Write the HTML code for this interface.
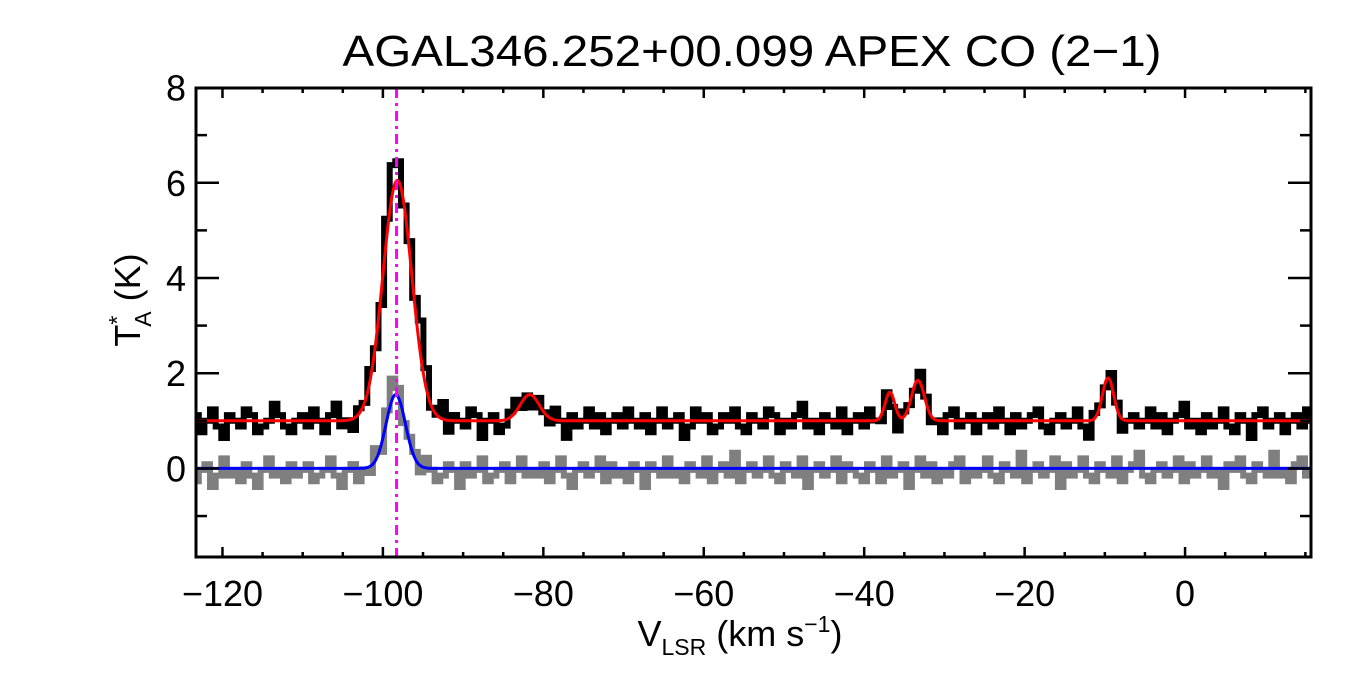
<!DOCTYPE html>
<html><head><meta charset="utf-8"><style>
html,body{margin:0;padding:0;background:#fff;}
svg{display:block;font-family:"Liberation Sans",Arial,sans-serif;}
</style></head><body>
<svg id="chart" width="1350" height="675" viewBox="0 0 1350 675">
<rect width="1350" height="675" fill="#fff"/>
<text x="752" y="66" font-size="44" text-anchor="middle" textLength="819" lengthAdjust="spacingAndGlyphs">AGAL346.252+00.099  APEX CO (2−1)</text>
<g id="series"></g>
<g id="axes"></g>
<text transform="translate(140,300) rotate(-90)" font-size="36" text-anchor="middle">T<tspan font-size="23" dy="-15">*</tspan><tspan font-size="23" dx="-11" dy="26">A</tspan><tspan dy="-11"> (K)</tspan></text>
<text x="740" y="646" font-size="36" text-anchor="middle">V<tspan font-size="23" dy="9">LSR</tspan><tspan dy="-9"> (km s</tspan><tspan font-size="23" dy="-14">−1</tspan><tspan dy="14">)</tspan></text>
</svg>
<script>
const xTicks=[-120,-100,-80,-60,-40,-20,0];
const yTicks=[0,2,4,6,8];
const vStart=-123.3, chanWidth=0.7;
const fitBaseline=1.0;
const fitCenters=[-98.2,-81.7,-36.8,-33.3,-9.6];
const fitAmps=[5.05,0.55,0.6,0.85,0.9];
const fitSigmas=[1.8,1.2,0.6,0.8,0.7];
const extraCenters=[-95.5,-99.0];
const extraAmps=[0.5,0.5];
const extraSigmas=[0.9,0.6];
const blueCenter=-98.4, blueAmp=1.55, blueSigma=1.2;
const greyPeakAmp=1.9;
const vMarker=-98.3;
const blackNoise=[1,-2,0,2,-1,-3,1,0,-1,2,1,-2,-1,0,3,1,-1,-2,0,1,
-1,2,0,-2,1,3,-1,0,-2,1,0,2,-1,-3,0,1,2,-1,0,-2,
2,1,-1,0,3,-2,1,0,-1,2,1,-3,0,1,-2,-1,1,2,-1,0,
-2,1,0,-1,2,0,-3,1,-1,0,2,-1,1,-2,0,1,-1,2,0,-1,
1,-2,0,2,-1,0,1,-3,-1,2,0,1,-2,-1,1,0,2,-1,-2,1,
0,-1,2,1,-2,0,-1,1,3,-1,0,-2,1,0,-1,2,-2,0,1,-1,
2,0,-1,1,-2,-3,1,0,-1,2,1,-1,0,-2,1,2,-1,0,1,-2,
0,1,-1,2,0,-2,1,-1,0,1,2,-1,-2,0,1,-1,0,2,-1,-3,
1,0,-1,2,1,-2,0,1,-1,0,2,-1,1,-2,0,1,3,-1,0,-2,
1,-1,0,2,-1,-2,1,0,-3,1,2,-1,0,1,-2,0,1,-1,2,0];
const greyNoise=[-2,0,1,-3,-1,2,-1,0,-2,1,-1,-3,0,2,-1,0,-2,1,-1,0,
1,-2,-1,0,2,-1,-3,0,1,-2,0,-1,2,-2,0,1,-1,-3,0,1,
-1,2,0,-2,-1,1,0,-3,1,-1,0,2,-2,-1,0,1,-2,0,2,-1,
0,-1,1,-2,0,2,-1,-3,0,1,-1,0,2,-2,1,-1,0,-2,1,0,
-3,1,0,-1,2,-1,0,-2,1,0,-1,2,-2,0,1,-1,3,-2,0,1,
-1,0,2,-1,-2,1,0,-1,2,-3,0,1,-1,0,2,-2,1,0,-1,-2,
1,0,-2,2,-1,0,1,-3,0,2,-1,1,-2,0,-1,1,2,-2,0,-1,
0,2,-1,-2,1,0,-1,3,-2,0,1,-1,0,2,-3,1,-1,0,2,-1,
-2,1,0,-1,2,-2,0,1,3,-1,-2,0,1,-1,0,2,-2,1,-1,0,
2,-1,0,-3,1,0,2,-1,-2,1,0,-1,3,-1,0,-2,1,2,-1,0];

const L=196,R=1311,T=88,B=557;
const xMin=-123.3,xMax=15.7,yMin=-1.86,yMax=7.99;
const X=v=>L+(v-xMin)/(xMax-xMin)*(R-L);
const Y=t=>B-(t-yMin)/(yMax-yMin)*(B-T);
const NS="http://www.w3.org/2000/svg";
const g=(c,a,s,v)=>a*Math.exp(-0.5*((v-c)/s)**2);
function fit(v){let t=fitBaseline;for(let k=0;k<fitCenters.length;k++)t+=g(fitCenters[k],fitAmps[k],fitSigmas[k],v);return t;}
function el(tag,attrs,parent){const e=document.createElementNS(NS,tag);for(const k in attrs)e.setAttribute(k,attrs[k]);parent.appendChild(e);return e;}
const series=document.getElementById('series'),axes=document.getElementById('axes');

function stepPath(vals){let d='';vals.forEach((t,i)=>{const v=vStart+chanWidth*i;const x0=X(Math.max(v-chanWidth/2,xMin)),x1=X(Math.min(v+chanWidth/2,xMax));d+=(i?'L':'M')+x0.toFixed(1)+','+Y(t).toFixed(1)+'L'+x1.toFixed(1)+','+Y(t).toFixed(1);});return d;}
const blackVals=blackNoise.map((n,i)=>{const v=vStart+chanWidth*i;let t=fit(v)+n*0.12;for(let k=0;k<extraCenters.length;k++)t+=g(extraCenters[k],extraAmps[k],extraSigmas[k],v);return t;});
const greyVals=greyNoise.map((n,i)=>{const v=vStart+chanWidth*i;return g(blueCenter,greyPeakAmp,blueSigma,v)+n*0.12-0.03;});

const clip=el('clipPath',{id:'plotclip'},series);el('rect',{x:L,y:T,width:R-L,height:B-T},clip);
const gp=el('path',{d:stepPath(greyVals),fill:'none',stroke:'#7f7f7f','stroke-width':6,'clip-path':'url(#plotclip)'},series);


const bp=el('path',{d:stepPath(blackVals),fill:'none',stroke:'#000','stroke-width':6,'clip-path':'url(#plotclip)'},series);


let dr='',db='';
for(let v=xMin;v<=xMax;v+=0.1){dr+=(dr?'L':'M')+X(v).toFixed(1)+','+Y(fit(v)).toFixed(1);db+=(db?'L':'M')+X(v).toFixed(1)+','+Y(g(blueCenter,blueAmp,blueSigma,v)).toFixed(1);}
const rp=el('path',{d:dr,fill:'none',stroke:'#f00','stroke-width':3},series);


const blp=el('path',{d:db,fill:'none',stroke:'#00f','stroke-width':3},series);


const mk=el('line',{x1:X(vMarker),x2:X(vMarker),y1:T,y2:B,stroke:'#f0f','stroke-width':3,'stroke-dasharray':'10,5,3,5'},series);



const fr=el('rect',{x:L,y:T,width:R-L,height:B-T,fill:'none',stroke:'#000','stroke-width':3},axes);


for(let v=-120;v<=15;v+=5){const maj=v%20===0;const len=maj?10:5;
 el('line',{x1:X(v),x2:X(v),y1:B,y2:B-len,stroke:'#000','stroke-width':2.5},axes);
 el('line',{x1:X(v),x2:X(v),y1:T,y2:T+len,stroke:'#000','stroke-width':2.5},axes);}
xTicks.forEach(v=>{const t=el('text',{x:X(v),y:606,'font-size':36,'text-anchor':'middle'},axes);t.textContent=(v<0?'−':'')+Math.abs(v);
 
 });
for(let t=-1;t<=7;t++){const maj=t%2===0;const len=maj?23:11;
 el('line',{x1:L,x2:L+len,y1:Y(t),y2:Y(t),stroke:'#000','stroke-width':2.5},axes);
 el('line',{x1:R,x2:R-len,y1:Y(t),y2:Y(t),stroke:'#000','stroke-width':2.5},axes);}
yTicks.forEach(t=>{const e=el('text',{x:186,y:Y(t)+13,'font-size':36,'text-anchor':'end'},axes);e.textContent=t;
 
 });
</script>
</body></html>
